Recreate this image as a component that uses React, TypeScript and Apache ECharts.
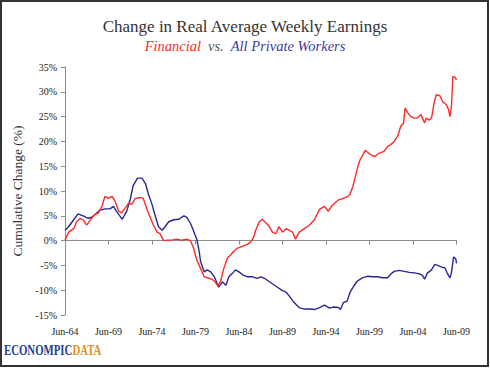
import React, { useEffect, useRef } from "react";
import * as echarts from "echarts";

// months since Jun-1964
const financialMonths = [0, 5, 12, 16, 21, 25, 30, 35, 41, 46, 51, 55, 60, 65, 69, 74, 78, 83, 88, 92, 97, 104, 108, 113, 118, 122, 127, 131, 136, 141, 147, 154, 161, 168, 173, 177, 182, 187, 192, 199, 203, 208, 211, 215, 219, 224, 229, 233, 238, 242, 247, 252, 256, 260, 263, 268, 272, 277, 282, 286, 291, 295, 300, 305, 309, 314, 318, 323, 330, 337, 344, 351, 358, 363, 368, 373, 377, 382, 389, 393, 397, 400, 404, 407, 411, 414, 419, 424, 428, 433, 440, 445, 449, 454, 459, 463, 467, 469, 473, 477, 482, 486, 491, 496, 498, 503, 506, 509, 512, 517, 521, 526, 529, 531, 533, 535, 538, 540];
const financialValues = [0.1, 1.7, 2.4, 3.8, 4.5, 4.2, 3.1, 4.2, 5.2, 5.6, 6.9, 8.9, 8.5, 8.9, 8.0, 5.9, 5.6, 6.6, 7.6, 7.3, 8.5, 8.7, 8.5, 6.3, 4.5, 3.1, 1.7, 1.4, 0.0, 0.1, 0.1, 0.3, 0.1, 0.3, 0.0, -1.4, -4.0, -5.6, -7.3, -7.6, -7.8, -8.5, -9.2, -8.0, -5.6, -3.5, -2.8, -2.1, -1.5, -1.3, -1.0, -0.7, -0.3, 0.6, 2.1, 3.8, 4.3, 3.6, 2.8, 1.7, 1.4, 2.8, 1.7, 2.4, 2.1, 1.7, 0.3, 1.7, 2.4, 3.1, 4.2, 6.3, 6.9, 5.9, 7.0, 7.7, 8.2, 8.4, 8.8, 9.3, 10.9, 12.6, 15.0, 16.3, 17.3, 18.2, 17.6, 17.1, 17.0, 17.6, 18.0, 19.0, 19.3, 20.0, 21.1, 23.0, 23.7, 26.7, 25.7, 25.0, 24.7, 24.7, 25.4, 23.7, 24.7, 24.3, 25.0, 27.7, 29.4, 29.2, 28.0, 27.4, 26.4, 25.0, 27.0, 33.1, 32.9, 32.4];

const privateMonths = [0, 5, 12, 18, 25, 32, 37, 41, 48, 55, 62, 67, 71, 76, 79, 85, 90, 94, 100, 106, 111, 115, 120, 124, 129, 134, 138, 143, 150, 157, 164, 168, 173, 177, 182, 185, 187, 192, 196, 201, 206, 210, 212, 217, 222, 226, 231, 235, 240, 245, 252, 259, 265, 270, 275, 279, 286, 293, 300, 305, 309, 316, 323, 330, 337, 344, 351, 358, 365, 370, 377, 380, 384, 389, 393, 398, 403, 410, 417, 424, 431, 438, 445, 449, 454, 461, 468, 475, 482, 489, 493, 496, 500, 505, 510, 514, 519, 524, 527, 531, 533, 536, 539, 540];
const privateValues = [2.1, 2.8, 4.2, 5.4, 5.0, 4.5, 4.7, 5.2, 6.1, 6.4, 6.4, 6.9, 5.9, 4.9, 4.3, 5.9, 8.3, 11.1, 12.6, 12.6, 11.5, 9.4, 7.3, 5.2, 2.8, 2.1, 2.8, 3.8, 4.2, 4.3, 5.0, 4.7, 3.5, 2.1, 0.1, -2.1, -4.2, -6.3, -5.9, -6.3, -7.3, -8.7, -9.4, -8.3, -9.0, -7.3, -6.6, -5.9, -6.3, -6.9, -7.3, -7.3, -7.6, -7.3, -7.6, -8.0, -8.7, -9.4, -10.1, -10.4, -11.1, -12.5, -13.5, -13.8, -13.8, -13.9, -13.5, -13.0, -13.6, -13.4, -13.5, -13.9, -12.5, -12.2, -10.5, -9.2, -8.2, -7.5, -7.2, -7.3, -7.3, -7.5, -7.5, -6.8, -6.2, -6.0, -6.2, -6.4, -6.5, -6.7, -7.0, -7.8, -6.5, -6.0, -4.8, -5.0, -5.3, -5.5, -6.5, -7.5, -6.5, -3.3, -3.7, -4.6];

const xTickLabels = ["Jun-64", "Jun-69", "Jun-74", "Jun-79", "Jun-84", "Jun-89", "Jun-94", "Jun-99", "Jun-04", "Jun-09"];

const SERIF = "Liberation Serif";

export default function App() {
  const ref = useRef<HTMLDivElement>(null);
  useEffect(() => {
    if (!ref.current) return;
    const chart = echarts.init(ref.current, null, { renderer: "svg" });
    const fin = financialMonths.map((m, i) => [m, financialValues[i]]);
    const prv = privateMonths.map((m, i) => [m, privateValues[i]]);
    chart.setOption({
      animation: false,
      backgroundColor: "#ffffff",
      title: {
        text: "Change in Real Average Weekly Earnings",
        left: "center",
        top: 13,
        itemGap: 3,
        textStyle: { fontFamily: SERIF, fontSize: 17, fontWeight: "normal", color: "#333333" },
        subtext: "{f|Financial}  {v|vs.}  {p|All Private Workers}",
        subtextStyle: {
          fontFamily: SERIF,
          fontSize: 14,
          rich: {
            f: { fontFamily: SERIF, fontSize: 14.5, fontStyle: "italic", color: "#f03030" },
            v: { fontFamily: SERIF, fontSize: 14.5, fontStyle: "italic", color: "#555555" },
            p: { fontFamily: SERIF, fontSize: 14.5, fontStyle: "italic", color: "#3a3aa0" },
          },
        },
      },
      grid: { left: 65, right: 33.5, top: 67, bottom: 53, containLabel: false },
      xAxis: [
        {
          type: "value",
          min: 0,
          max: 540,
          interval: 60,
          position: "bottom",
          axisLine: { show: false, onZero: false },
          axisTick: { show: false },
          splitLine: { show: false },
          axisLabel: {
            margin: 11,
            fontFamily: SERIF,
            fontSize: 10,
            color: "#222222",
            formatter: (v: number) => xTickLabels[Math.round(v / 60)] ?? "",
          },
        },
        {
          type: "value",
          min: 0,
          max: 540,
          interval: 60,
          position: "bottom",
          axisLine: { show: true, onZero: true, lineStyle: { color: "#8c8c8c", width: 1 } },
          axisTick: { show: true, length: 4, lineStyle: { color: "#8c8c8c" } },
          axisLabel: { show: false },
          splitLine: { show: false },
        },
      ],
      yAxis: {
        type: "value",
        min: -15,
        max: 35,
        interval: 5,
        name: "Cumulative Change (%)",
        nameLocation: "middle",
        nameGap: 34,
        nameTextStyle: { fontFamily: SERIF, fontSize: 13.5, color: "#333333" },
        axisLine: { show: true, lineStyle: { color: "#8c8c8c", width: 1 } },
        axisTick: { show: true, length: 4, lineStyle: { color: "#8c8c8c" } },
        splitLine: { show: false },
        axisLabel: {
          margin: 8,
          fontFamily: SERIF,
          fontSize: 10,
          color: "#222222",
          formatter: (v: number) => v + "%",
        },
      },
      series: [
        {
          name: "Financial",
          type: "line",
          xAxisIndex: 0,
          data: fin,
          showSymbol: false,
          lineStyle: { color: "#ff2a2a", width: 1.4 },
          z: 3,
        },
        {
          name: "All Private Workers",
          type: "line",
          xAxisIndex: 0,
          data: prv,
          showSymbol: false,
          lineStyle: { color: "#27278f", width: 1.4 },
          z: 2,
        },
      ],
      graphic: [
        {
          type: "rect",
          shape: { x: 1, y: 1, width: 487, height: 365 },
          style: { fill: "none", stroke: "#333333", lineWidth: 2 },
          silent: true,
        },
        {
          type: "text",
          x: 4,
          y: 342,
          scaleX: 0.72,
          style: {
            text: "{b|ECONOMPIC}{o|DATA}",
            rich: {
              b: { fontFamily: SERIF, fontSize: 15, fontWeight: "bold", fill: "#1d3f8f" },
              o: { fontFamily: SERIF, fontSize: 15, fontWeight: "bold", fill: "#e2901f" },
            },
          },
        },
      ],
    });
    return () => chart.dispose();
  }, []);
  return (
    <div
      ref={ref}
      style={{ position: "fixed", left: 0, top: 0, width: 490, height: 368, background: "#fff" }}
    />
  );
}
